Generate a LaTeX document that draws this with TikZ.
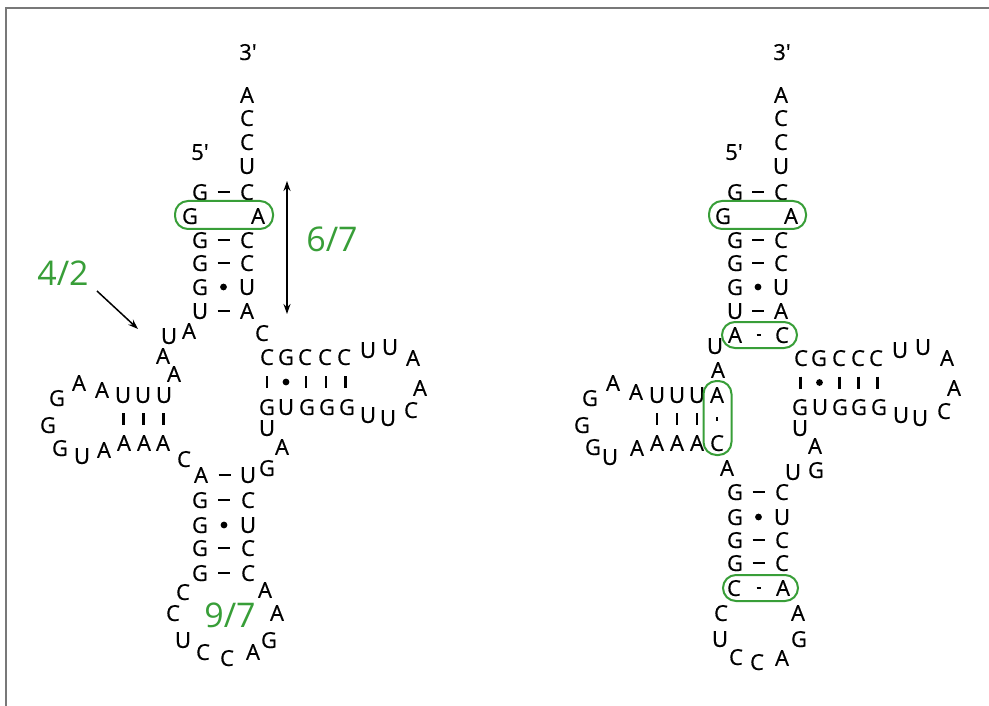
\documentclass[tikz,border=0pt]{standalone}
\usepackage{fontspec}
\setmainfont{Open Sans}[Ligatures=TeXOff]
\newfontfamily\ntfnt{Open Sans}[Ligatures=TeXOff, FakeBold=0.6]
\usetikzlibrary{calc,arrows.meta}
\definecolor{grn}{RGB}{56,158,56}
\definecolor{frm}{RGB}{120,120,120}
\tikzset{
  nt/.style={inner sep=0pt, text depth=0pt, font=\ntfnt\fontsize{22}{26}\selectfont},
  lbl/.style={inner sep=0pt, text depth=0pt, font=\fontsize{34}{40}\selectfont, text=grn},
  oval/.style={draw=grn, line width=2pt, rounded corners=13pt, inner sep=0pt, rectangle},
  bp/.style={line width=2.6pt},
  arr/.style={line width=1.5pt, -{Stealth[length=10pt,width=7pt]}},
  darr/.style={line width=1.5pt, {Stealth[length=10pt,width=7pt]}-{Stealth[length=10pt,width=7pt]}},
}
\newcommand\pairWC[2]{\draw[bp] ($(#1)!.5!(#2)$) +(-6,0) -- +(6,0);}
\newcommand\pairGU[2]{\fill ($(#1)!.5!(#2)$) circle (3.4pt);}
\newcommand\pairV[2]{\draw[bp] ($(#1)!.5!(#2)$) +(0,-6) -- +(0,6);}
\newcommand\pairSm[2]{\draw[line width=2.6pt] ($(#1)!.5!(#2)$) +(-2,0) -- +(2,0);}
\newcommand\pairTk[2]{\draw[line width=2.6pt] ($(#1)!.5!(#2)$) +(0,-2) -- +(0,2);}
\begin{document}
\begin{tikzpicture}[x=1pt,y=-1pt]
\useasboundingbox (0,0) rectangle (989,706);
\draw[frm, line width=2pt] (6,706) -- (6,8) -- (989,8);

%%%%%%%%%%%%%%%% LEFT STRUCTURE %%%%%%%%%%%%%%%%
\node[nt] (L3p) at (248,52) {3'};
\node[nt] (L5p) at (200,152) {5'};
\node[nt] (La1) at (247,95) {A};
\node[nt] (La2) at (247,118) {C};
\node[nt] (La3) at (247,142) {C};
\node[nt] (La4) at (247,166) {U};
% acceptor stem
\node[nt] (Ls1l) at (200,192) {G}; \node[nt] (Ls1r) at (247,192) {C};
\node[nt] (Ls2l) at (190,216) {G}; \node[nt] (Ls2r) at (258,216) {A};
\node[nt] (Ls3l) at (200,240) {G}; \node[nt] (Ls3r) at (247,240) {C};
\node[nt] (Ls4l) at (200,263) {G}; \node[nt] (Ls4r) at (247,263) {C};
\node[nt] (Ls5l) at (200,287) {G}; \node[nt] (Ls5r) at (247,287) {U};
\node[nt] (Ls6l) at (200,311) {U}; \node[nt] (Ls6r) at (247,311) {A};
\pairWC{Ls1l}{Ls1r}
\pairWC{Ls3l}{Ls3r}
\pairWC{Ls4l}{Ls4r}
\pairGU{Ls5l}{Ls5r}
\pairWC{Ls6l}{Ls6r}
\node[oval, minimum width=98pt, minimum height=28pt] (Lov1) at (224,215) {};
% junction
\node[nt] (Lj1) at (169,336) {U};
\node[nt] (Lj2) at (189,331) {A};
\node[nt] (Lj3) at (163,356) {A};
\node[nt] (Lj4) at (174,374) {A};
\node[nt] (Ljc) at (262,333) {C};
% D arm
\node[nt] (Ld1) at (164,395) {U};
\node[nt] (Ld2) at (143,395) {U};
\node[nt] (Ld3) at (123,395) {U};
\node[nt] (Ld4) at (102,390) {A};
\node[nt] (Ld5) at (79,383) {A};
\node[nt] (Ld6) at (57,398) {G};
\node[nt] (Ld7) at (48,425) {G};
\node[nt] (Ld8) at (60,448) {G};
\node[nt] (Ld9) at (82,456) {U};
\node[nt] (Ld10) at (104,450) {A};
\node[nt] (Ld11) at (124,443) {A};
\node[nt] (Ld12) at (144,443) {A};
\node[nt] (Ld13) at (163,443) {A};
\pairV{Ld3}{Ld11}
\pairV{Ld2}{Ld12}
\pairV{Ld1}{Ld13}
\node[nt] (Lc) at (184,459) {C};
% anticodon stem
\node[nt] (Lac1l) at (201,475) {A}; \node[nt] (Lac1r) at (248,475) {U};
\node[nt] (Lac2l) at (200,500) {G}; \node[nt] (Lac2r) at (248,500) {C};
\node[nt] (Lac3l) at (200,525) {G}; \node[nt] (Lac3r) at (248,525) {U};
\node[nt] (Lac4l) at (200,548) {G}; \node[nt] (Lac4r) at (248,548) {C};
\node[nt] (Lac5l) at (200,573) {G}; \node[nt] (Lac5r) at (248,573) {C};
\pairWC{Lac1l}{Lac1r}
\pairWC{Lac2l}{Lac2r}
\pairGU{Lac3l}{Lac3r}
\pairWC{Lac4l}{Lac4r}
\pairWC{Lac5l}{Lac5r}
% anticodon loop
\node[nt] (Ll1) at (183,592) {C};
\node[nt] (Ll2) at (173,613) {C};
\node[nt] (Ll3) at (183,640) {U};
\node[nt] (Ll4) at (203,652) {C};
\node[nt] (Ll5) at (227,658) {C};
\node[nt] (Ll6) at (253,652) {A};
\node[nt] (Ll7) at (269,640) {G};
\node[nt] (Ll8) at (277,613) {A};
\node[nt] (Ll9) at (265,590) {A};
% variable
\node[nt] (Lv1) at (267,468) {G};
\node[nt] (Lv2) at (282,447) {A};
\node[nt] (Lv3) at (267,428) {U};
% T arm
\node[nt] (Lt1) at (267,357) {C};
\node[nt] (Lt2) at (286,357) {G};
\node[nt] (Lt3) at (305,357) {C};
\node[nt] (Lt4) at (325,357) {C};
\node[nt] (Lt5) at (344,357) {C};
\node[nt] (Lt6) at (368,350) {U};
\node[nt] (Lt7) at (390,347) {U};
\node[nt] (Lt8) at (413,358) {A};
\node[nt] (Lt9) at (420,388) {A};
\node[nt] (Lt10) at (411,410) {C};
\node[nt] (Lt11) at (388,418) {U};
\node[nt] (Lt12) at (368,415) {U};
\node[nt] (Lb1) at (267,407) {G};
\node[nt] (Lb2) at (286,407) {U};
\node[nt] (Lb3) at (307,407) {G};
\node[nt] (Lb4) at (327,407) {G};
\node[nt] (Lb5) at (347,407) {G};
\pairV{Lt1}{Lb1}
\pairGU{Lt2}{Lb2}
\pairV{Lt3}{Lb3}
\pairV{Lt4}{Lb4}
\pairV{Lt5}{Lb5}
% labels and arrows
\node[lbl] (n67) at (332,239) {6/7};
\node[lbl] (n42) at (63,273) {4/2};
\node[lbl] (n97) at (230,615) {9/7};
\coordinate (dtop) at (287,181);
\coordinate (dbot) at (287,314);
\draw[darr] (dtop) -- (dbot);
\coordinate (a42s) at (97,291);
\coordinate (a42e) at (138,329);
\draw[arr] (a42s) -- (a42e);

%%%%%%%%%%%%%%%% RIGHT STRUCTURE %%%%%%%%%%%%%%%%
\node[nt] (R3p) at (782,52) {3'};
\node[nt] (R5p) at (734,152) {5'};
\node[nt] (Ra1) at (781,95) {A};
\node[nt] (Ra2) at (781,118) {C};
\node[nt] (Ra3) at (781,142) {C};
\node[nt] (Ra4) at (781,166) {U};
\node[nt] (Rs1l) at (735,192) {G}; \node[nt] (Rs1r) at (781,192) {C};
\node[nt] (Rs2l) at (723,216) {G}; \node[nt] (Rs2r) at (791,216) {A};
\node[nt] (Rs3l) at (735,240) {G}; \node[nt] (Rs3r) at (781,240) {C};
\node[nt] (Rs4l) at (735,263) {G}; \node[nt] (Rs4r) at (781,263) {C};
\node[nt] (Rs5l) at (735,287) {G}; \node[nt] (Rs5r) at (781,287) {U};
\node[nt] (Rs6l) at (735,311) {U}; \node[nt] (Rs6r) at (781,311) {A};
\node[nt] (Rs7l) at (735,335) {A}; \node[nt] (Rs7r) at (782,335) {C};
\pairWC{Rs1l}{Rs1r}
\pairWC{Rs3l}{Rs3r}
\pairWC{Rs4l}{Rs4r}
\pairGU{Rs5l}{Rs5r}
\pairWC{Rs6l}{Rs6r}
\pairSm{Rs7l}{Rs7r}
\node[oval, minimum width=97pt, minimum height=28pt] (Rov1) at (757.5,215) {};
\node[oval, minimum width=75pt, minimum height=26pt] (Rov2) at (759.5,335) {};
% junction
\node[nt] (Rj1) at (715,346) {U};
\node[nt] (Rj2) at (718,370) {A};
% D arm
\node[nt] (Rd1) at (717,395) {A};
\node[nt] (Rd2) at (697,395) {U};
\node[nt] (Rd3) at (677,395) {U};
\node[nt] (Rd4) at (657,395) {U};
\node[nt] (Rd5) at (636,392) {A};
\node[nt] (Rd6) at (613,383) {A};
\node[nt] (Rd7) at (590,398) {G};
\node[nt] (Rd8) at (582,425) {G};
\node[nt] (Rd9) at (593,447) {G};
\node[nt] (Rd10) at (610,457) {U};
\node[nt] (Rd11) at (637,448) {A};
\node[nt] (Rd12) at (657,443) {A};
\node[nt] (Rd13) at (677,443) {A};
\node[nt] (Rd14) at (697,443) {A};
\node[nt] (Rd15) at (717,443) {C};
\pairV{Rd4}{Rd12}
\pairV{Rd3}{Rd13}
\pairV{Rd2}{Rd14}
\pairTk{Rd1}{Rd15}
\node[oval, rounded corners=13pt, minimum width=28pt, minimum height=74pt] (Rov3) at (717.5,418) {};
\node[nt] (Rja) at (727,468) {A};
% variable
\node[nt] (Rv1) at (793,472) {U};
\node[nt] (Rv2) at (816,470) {G};
\node[nt] (Rv3) at (815,446) {A};
\node[nt] (Rv4) at (800,428) {U};
% T arm
\node[nt] (Rt1) at (801,358) {C};
\node[nt] (Rt2) at (819,358) {G};
\node[nt] (Rt3) at (839,358) {C};
\node[nt] (Rt4) at (858,358) {C};
\node[nt] (Rt5) at (876,358) {C};
\node[nt] (Rt6) at (900,350) {U};
\node[nt] (Rt7) at (923,347) {U};
\node[nt] (Rt8) at (947,358) {A};
\node[nt] (Rt9) at (954,388) {A};
\node[nt] (Rt10) at (944,411) {C};
\node[nt] (Rt11) at (920,418) {U};
\node[nt] (Rt12) at (901,415) {U};
\node[nt] (Rb1) at (800,407) {G};
\node[nt] (Rb2) at (820,407) {U};
\node[nt] (Rb3) at (840,407) {G};
\node[nt] (Rb4) at (859,407) {G};
\node[nt] (Rb5) at (879,407) {G};
\pairV{Rt1}{Rb1}
\pairGU{Rt2}{Rb2}
\pairV{Rt3}{Rb3}
\pairV{Rt4}{Rb4}
\pairV{Rt5}{Rb5}
% anticodon stem
\node[nt] (Rac1l) at (735,492) {G}; \node[nt] (Rac1r) at (782,492) {C};
\node[nt] (Rac2l) at (735,517) {G}; \node[nt] (Rac2r) at (782,517) {U};
\node[nt] (Rac3l) at (735,540) {G}; \node[nt] (Rac3r) at (782,540) {C};
\node[nt] (Rac4l) at (735,563) {G}; \node[nt] (Rac4r) at (782,563) {C};
\node[nt] (Rac5l) at (734,588) {C}; \node[nt] (Rac5r) at (783,588) {A};
\pairWC{Rac1l}{Rac1r}
\pairGU{Rac2l}{Rac2r}
\pairWC{Rac3l}{Rac3r}
\pairWC{Rac4l}{Rac4r}
\pairSm{Rac5l}{Rac5r}
\node[oval, minimum width=75pt, minimum height=26pt] (Rov4) at (760.5,588) {};
% anticodon loop
\node[nt] (Rl1) at (721,613) {C};
\node[nt] (Rl2) at (720,639) {U};
\node[nt] (Rl3) at (736,657) {C};
\node[nt] (Rl4) at (757,662) {C};
\node[nt] (Rl5) at (782,658) {A};
\node[nt] (Rl6) at (799,639) {G};
\node[nt] (Rl7) at (798,613) {A};
\end{tikzpicture}
\end{document}
